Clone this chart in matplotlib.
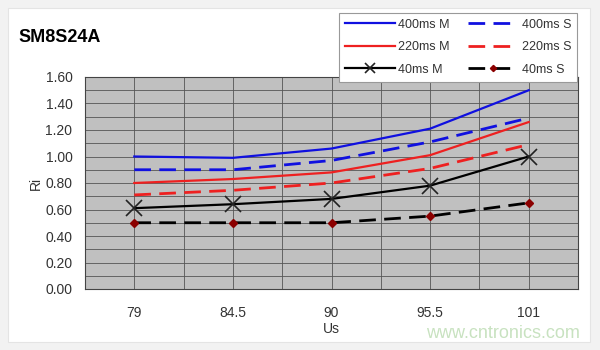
import matplotlib
matplotlib.use("Agg")
import matplotlib.pyplot as plt
from matplotlib.patches import Rectangle
import numpy as np

# Us categories and Ri values per pulse width / mode
us_labels = ["79", "84.5", "90", "95.5", "101"]
ri_400_m = [1.00, 0.99, 1.06, 1.21, 1.50]
ri_400_s = [0.90, 0.90, 0.97, 1.11, 1.29]
ri_220_m = [0.80, 0.83, 0.88, 1.01, 1.26]
ri_220_s = [0.71, 0.745, 0.80, 0.91, 1.09]
ri_40_m = [0.61, 0.64, 0.68, 0.78, 1.00]
ri_40_s = [0.50, 0.50, 0.50, 0.55, 0.65]

plt.rcParams['font.family'] = ['Liberation Sans', 'DejaVu Sans']

fig = plt.figure(figsize=(6, 3.5), dpi=100)
fig.patch.set_facecolor("#f2f2f2")
# white card behind the chart
fig.patches.append(Rectangle((8 / 600, 8 / 350), 582 / 600, 334 / 350,
                             transform=fig.transFigure, facecolor="white",
                             edgecolor="#e4e4e4", lw=0.8, zorder=-5))

ax = fig.add_axes([85 / 600, 61 / 350, 493 / 600, 212 / 350])
ax.set_facecolor("#c0c0c0")

x = np.arange(len(us_labels))
dash = (0, (6, 3))

l1, = ax.plot(x, ri_400_m, color="#1010e0", lw=1.6)
l2, = ax.plot(x, ri_220_m, color="#ee2020", lw=1.6)
l3, = ax.plot(x, ri_40_m, color="black", lw=1.6, marker="x", ms=11,
              mew=1.2, mec="#222222")
l4, = ax.plot(x, ri_400_s, color="#1010e0", lw=2.0, linestyle=dash)
l5, = ax.plot(x, ri_220_s, color="#ee2020", lw=2.0, linestyle=dash)
l6, = ax.plot(x, ri_40_s, color="black", lw=2.0, linestyle=dash,
              marker="D", ms=4.5, mfc="#8b0000", mec="#8b0000")

ax.set_xlim(-0.5, len(us_labels) - 0.5)
ax.set_ylim(0, 1.6)
ax.set_xticks(x)
ax.set_xticklabels(us_labels)
ax.set_xticks(np.arange(-0.5, len(us_labels), 0.5), minor=True)
ax.set_yticks(np.arange(0, 1.61, 0.2))
ax.set_yticklabels([f"{v:.2f}" for v in np.arange(0, 1.61, 0.2)])
ax.set_yticks(np.arange(0, 1.61, 0.1), minor=True)
ax.grid(which="both", color="#555555", lw=0.6)
ax.set_axisbelow(True)
ax.tick_params(which="both", length=0)
ax.tick_params(axis="x", pad=12, labelsize=10, labelcolor="#333333")
ax.tick_params(axis="y", pad=9, labelsize=10, labelcolor="#333333")
for s in ax.spines.values():
    s.set_color("#444444")
    s.set_linewidth(0.8)

ax.set_xlabel("Us", fontsize=10, color="#333333", labelpad=2)
ax.set_ylabel("Ri", fontsize=10, color="#333333", labelpad=2)

fig.text(18 / 600, 1 - 38 / 350, "SM8S24A", fontsize=13, fontweight="bold",
         va="center", ha="left")

leg = fig.legend([l1, l2, l3, l4, l5, l6],
                 ["400ms M", "220ms M", "40ms M", "400ms S", "220ms S", "40ms S"],
                 ncol=2, loc="upper left", bbox_to_anchor=(339 / 600, 1 - 13 / 350),
                 borderaxespad=0, fontsize=9, frameon=True, fancybox=False,
                 framealpha=1, markerscale=0.7,
                 handlelength=4.0, handletextpad=0.3, columnspacing=1.45,
                 labelspacing=0.84, borderpad=0.46)
leg.get_frame().set_edgecolor("#999999")
leg.get_frame().set_linewidth(0.8)
leg.set_zorder(5)
for t in leg.get_texts():
    t.set_color("#333333")

fig.text(580 / 600, 1 - 333 / 350, "www.cntronics.com", fontsize=13,
         color="#c8e2c0", ha="right", va="center")

fig.savefig("out.png", dpi=100, facecolor=fig.get_facecolor())
